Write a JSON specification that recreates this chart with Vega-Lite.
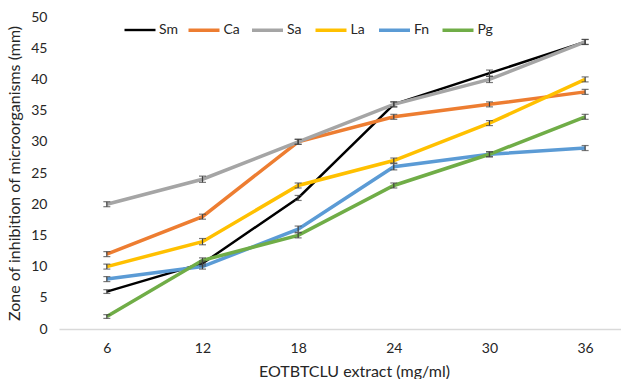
{
  "$schema": "https://vega.github.io/schema/vega-lite/v6.json",
  "width": 562,
  "height": 312,
  "autosize": {"type": "none"},
  "padding": {"left": 59, "top": 17, "right": 0, "bottom": 50},
  "background": "white",
  "config": {"view": {"stroke": null}, "font": "Lato"},
  "data": {"values": [
    {"x": 6, "s": "Sm", "v": 6, "e": 0.3}, {"x": 12, "s": "Sm", "v": 10.5, "e": 0.4}, {"x": 18, "s": "Sm", "v": 21, "e": 0.4}, {"x": 24, "s": "Sm", "v": 36, "e": 0.4}, {"x": 30, "s": "Sm", "v": 41, "e": 0.5}, {"x": 36, "s": "Sm", "v": 46, "e": 0.4},
    {"x": 6, "s": "Ca", "v": 12, "e": 0.4}, {"x": 12, "s": "Ca", "v": 18, "e": 0.4}, {"x": 18, "s": "Ca", "v": 30, "e": 0.4}, {"x": 24, "s": "Ca", "v": 34, "e": 0.4}, {"x": 30, "s": "Ca", "v": 36, "e": 0.4}, {"x": 36, "s": "Ca", "v": 38, "e": 0.4},
    {"x": 6, "s": "Sa", "v": 20, "e": 0.4}, {"x": 12, "s": "Sa", "v": 24, "e": 0.5}, {"x": 18, "s": "Sa", "v": 30, "e": 0.4}, {"x": 24, "s": "Sa", "v": 36, "e": 0.4}, {"x": 30, "s": "Sa", "v": 40, "e": 0.5}, {"x": 36, "s": "Sa", "v": 46, "e": 0.4},
    {"x": 6, "s": "La", "v": 10, "e": 0.4}, {"x": 12, "s": "La", "v": 14, "e": 0.5}, {"x": 18, "s": "La", "v": 23, "e": 0.4}, {"x": 24, "s": "La", "v": 27, "e": 0.4}, {"x": 30, "s": "La", "v": 33, "e": 0.4}, {"x": 36, "s": "La", "v": 40, "e": 0.4},
    {"x": 6, "s": "Fn", "v": 8, "e": 0.4}, {"x": 12, "s": "Fn", "v": 10, "e": 0.4}, {"x": 18, "s": "Fn", "v": 16, "e": 0.5}, {"x": 24, "s": "Fn", "v": 26, "e": 0.5}, {"x": 30, "s": "Fn", "v": 28, "e": 0.4}, {"x": 36, "s": "Fn", "v": 29, "e": 0.4},
    {"x": 6, "s": "Pg", "v": 2, "e": 0.3}, {"x": 12, "s": "Pg", "v": 11, "e": 0.4}, {"x": 18, "s": "Pg", "v": 15, "e": 0.4}, {"x": 24, "s": "Pg", "v": 23, "e": 0.4}, {"x": 30, "s": "Pg", "v": 28, "e": 0.4}, {"x": 36, "s": "Pg", "v": 34, "e": 0.4}
  ]},
  "encoding": {
    "x": {"field": "x", "type": "quantitative", "scale": {"domain": [3, 38.25], "nice": false, "zero": false},
      "axis": {"values": [6, 12, 18, 24, 30, 36], "grid": false, "ticks": false, "domainColor": "#D9D9D9", "domainWidth": 1.5,
        "labelFontSize": 14, "labelColor": "#262626", "labelPadding": 12, "labelFont": "Lato",
        "title": "EOTBTCLU extract (mg/ml)", "titleFontSize": 16, "titleFontWeight": "normal", "titleColor": "#262626", "titleFont": "Lato", "titlePadding": 8, "titleX": 295}},
    "y": {"field": "v", "type": "quantitative", "scale": {"domain": [0, 50], "nice": false},
      "axis": {"values": [0, 5, 10, 15, 20, 25, 30, 35, 40, 45, 50], "grid": false, "ticks": false, "domain": false,
        "labelFontSize": 14, "labelColor": "#262626", "labelPadding": 12, "labelFont": "Lato",
        "title": "Zone of inhibition of microorganisms (mm)", "titleFontSize": 16, "titleFontWeight": "normal", "titleColor": "#262626", "titleFont": "Lato", "titlePadding": 8}}
  },
  "layer": [
    {
      "mark": {"type": "line"},
      "encoding": {
        "color": {"field": "s", "type": "nominal",
          "scale": {"domain": ["Sm", "Ca", "Sa", "La", "Fn", "Pg"], "range": ["#000000", "#ED7D31", "#A5A5A5", "#FFC000", "#5B9BD5", "#70AD47"]},
          "legend": {"title": null, "orient": "none", "legendX": 64, "legendY": -4.5, "direction": "horizontal",
            "symbolType": "stroke", "symbolSize": 961, "symbolStrokeWidth": 3.5, "labelFontSize": 14, "labelFont": "Lato", "labelColor": "#262626",
            "labelOffset": 2, "columnPadding": 3.5, "gridAlign": "all"}},
        "strokeWidth": {"field": "s", "type": "nominal", "scale": {"type": "ordinal", "domain": ["Sm", "Ca", "Sa", "La", "Fn", "Pg"], "range": [2.4, 3.5, 3.5, 3.5, 3.5, 3.5]}, "legend": null}
      }
    },
    {
      "mark": {"type": "errorbar", "ticks": {"size": 7, "color": "#404040"}, "color": "#404040", "thickness": 1.2},
      "encoding": {
        "yError": {"field": "e"},
        "detail": {"field": "s", "type": "nominal"}
      }
    }
  ]
}
